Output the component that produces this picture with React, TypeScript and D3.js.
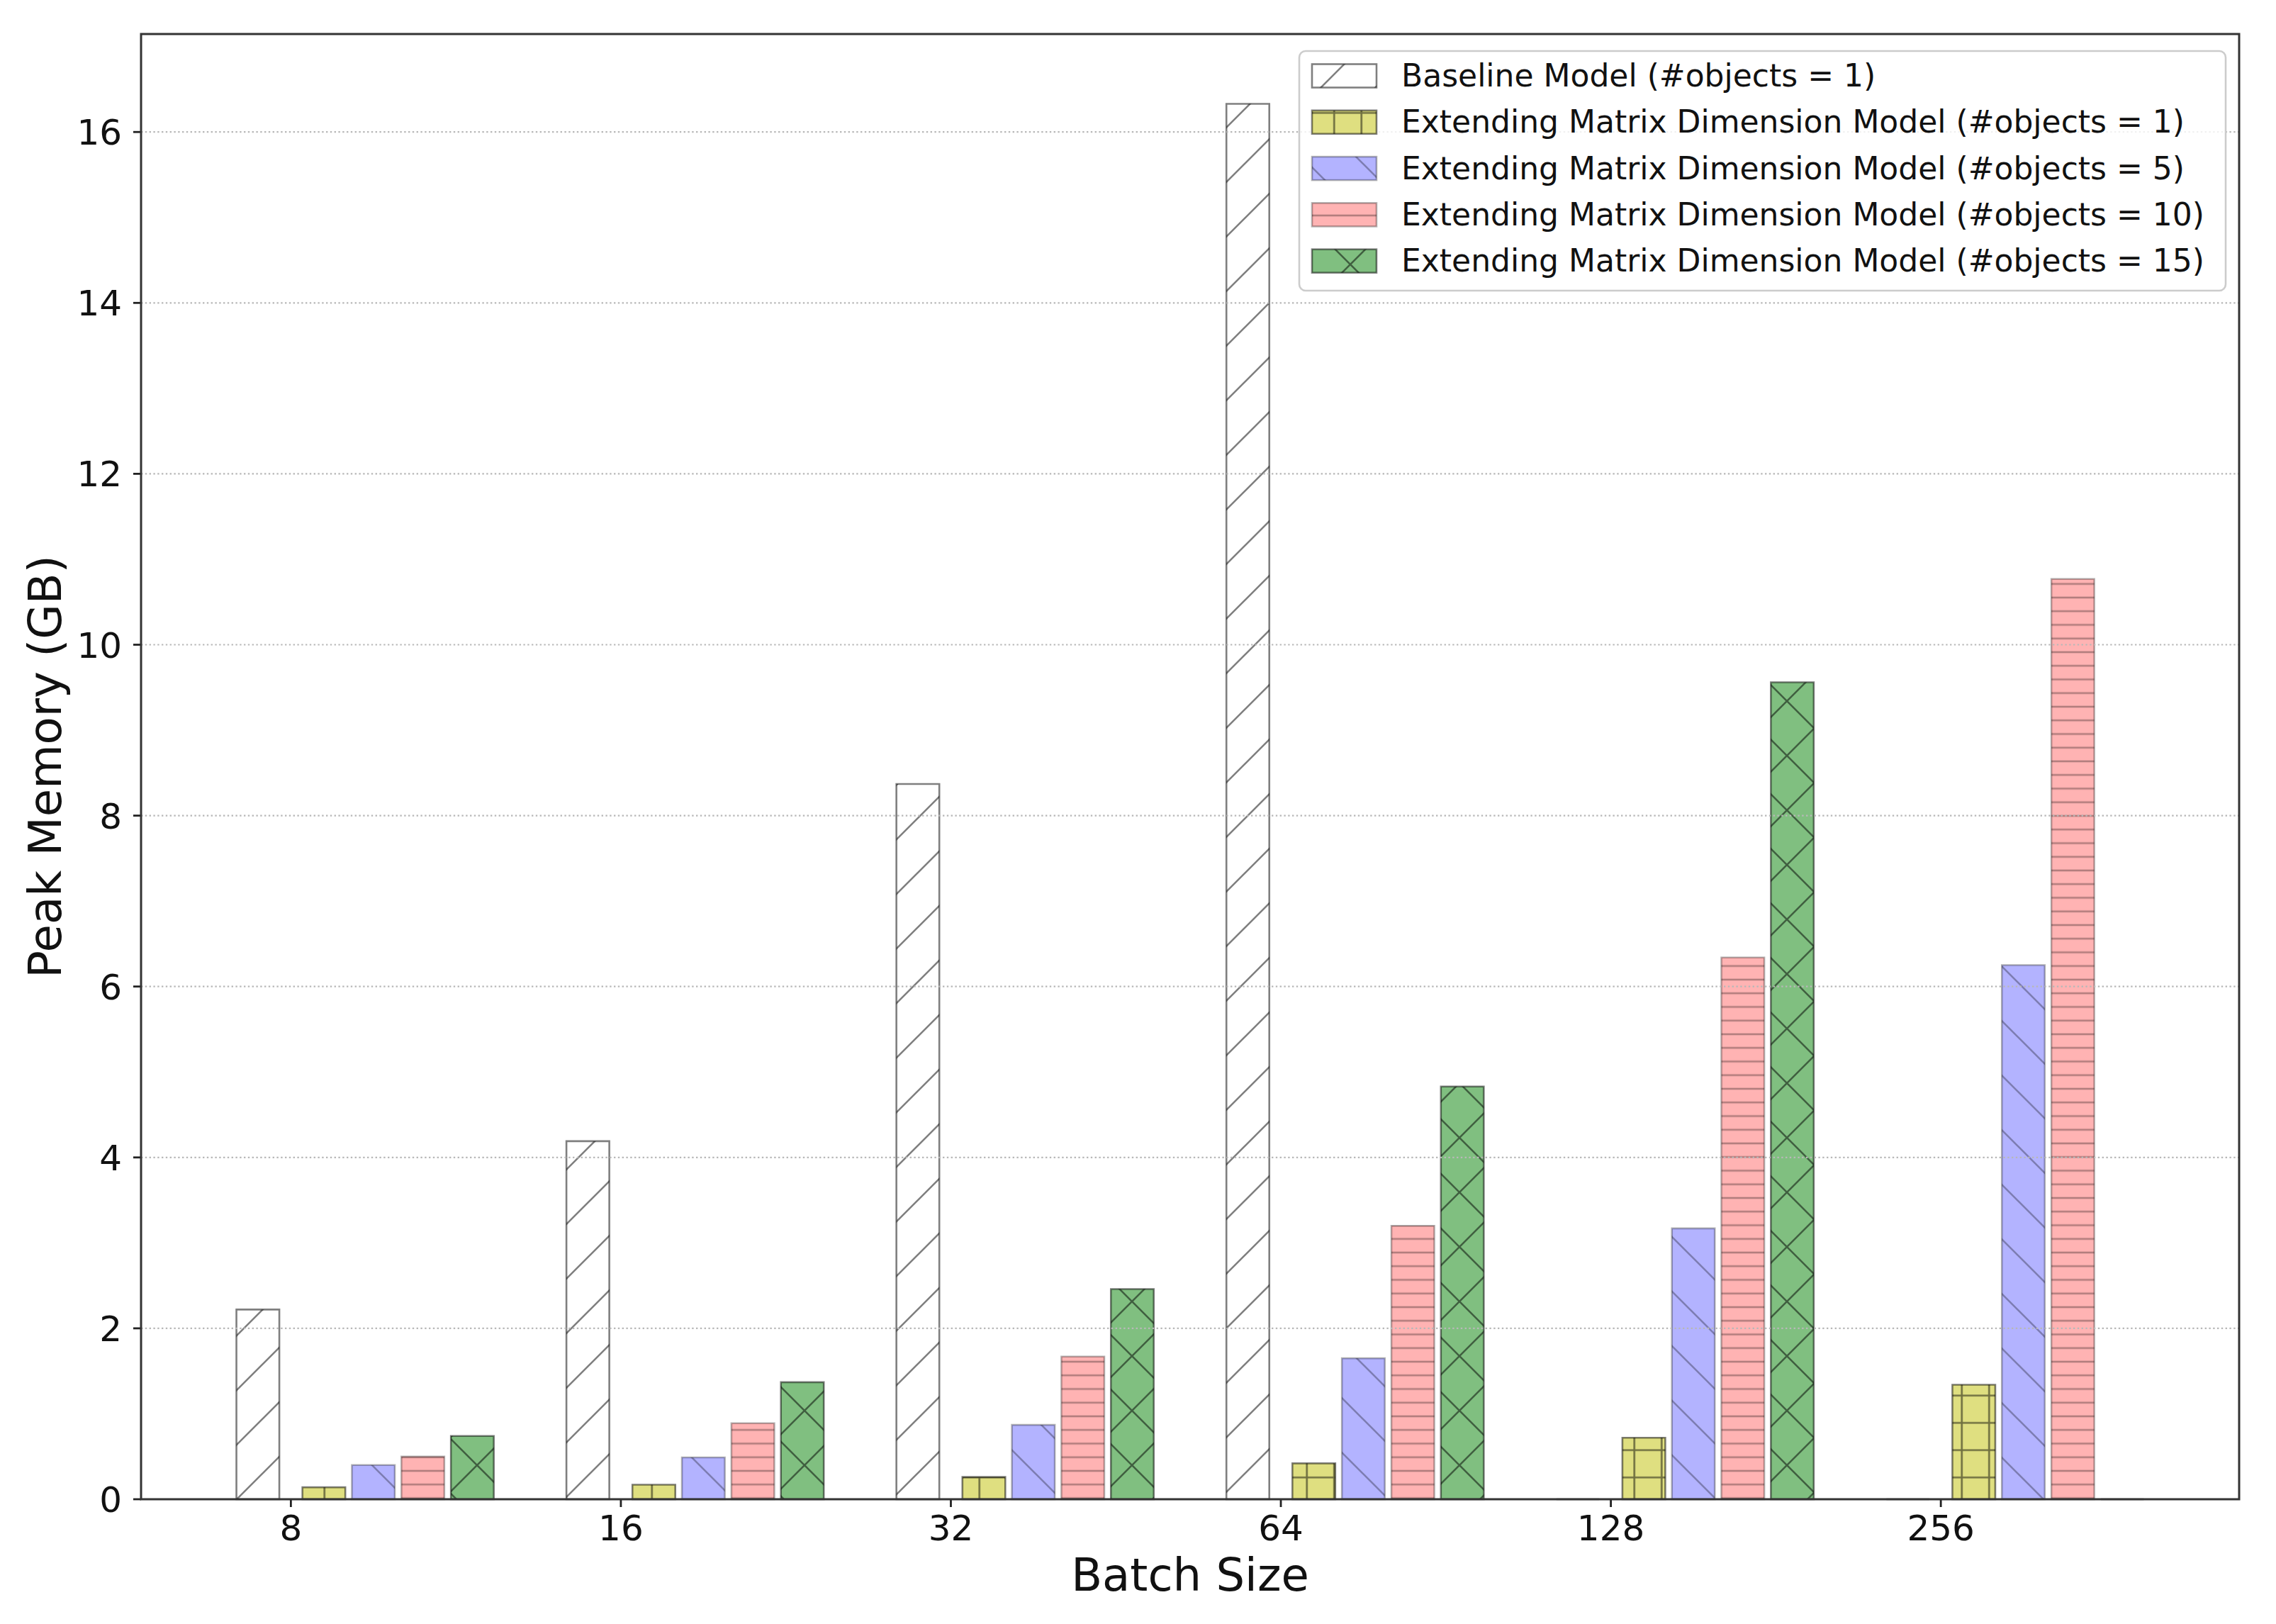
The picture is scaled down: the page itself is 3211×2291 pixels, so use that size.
import React from "react";
import * as d3 from "d3";

const categories = ["8", "16", "32", "64", "128", "256"];

const baselineValues = [2.22, 4.19, 8.37, 16.33, 0, 0];
const emd1Values = [0.14, 0.17, 0.26, 0.42, 0.72, 1.34];
const emd5Values = [0.4, 0.49, 0.87, 1.65, 3.17, 6.25];
const emd10Values = [0.5, 0.89, 1.67, 3.2, 6.34, 10.77];
const emd15Values = [0.74, 1.37, 2.46, 4.83, 9.56, 0];

const seriesLabels = [
  "Baseline Model (#objects = 1)",
  "Extending Matrix Dimension Model (#objects = 1)",
  "Extending Matrix Dimension Model (#objects = 5)",
  "Extending Matrix Dimension Model (#objects = 10)",
  "Extending Matrix Dimension Model (#objects = 15)",
];

const yTicks = [0, 2, 4, 6, 8, 10, 12, 14, 16];

interface Series {
  label: string;
  values: number[];
  offset: number;
  fill: string;
  alpha: number;
  hatch: string;
}

const series: Series[] = [
  { label: seriesLabels[0], values: baselineValues, offset: -0.1, fill: "#ffffff", alpha: 0.5, hatch: "slash" },
  { label: seriesLabels[1], values: emd1Values, offset: 0.1, fill: "#dfdf80", alpha: 0.5, hatch: "plus" },
  { label: seriesLabels[2], values: emd5Values, offset: 0.25, fill: "#b3b3ff", alpha: 0.3, hatch: "back" },
  { label: seriesLabels[3], values: emd10Values, offset: 0.4, fill: "#ffb3b3", alpha: 0.3, hatch: "dash" },
  { label: seriesLabels[4], values: emd15Values, offset: 0.55, fill: "#80bf80", alpha: 0.5, hatch: "cross" },
];

const W = 3211;
const H = 2291;
const margin = { left: 199, right: 52, top: 48, bottom: 176 };
const barWidth = 0.13;
const FONT = "DejaVu Sans, sans-serif";

function HatchDefs() {
  const P = 77;
  const lw = 2.6;
  const diagSlash = `M-2,2 L2,-2 M0,${P} L${P},0 M${P - 2},${P + 2} L${P + 2},${P - 2}`;
  const diagBack = `M-2,${P - 2} L2,${P + 2} M0,0 L${P},${P} M${P - 2},-2 L${P + 2},2`;
  const plusP = P / 2;
  const dashP = P / 4;
  return (
    <defs>
      {series.map((s) => {
        const stroke = `rgba(0,0,0,${s.alpha})`;
        if (s.hatch === "slash")
          return (
            <pattern key={s.hatch} id="h-slash" patternUnits="userSpaceOnUse" width={P} height={P} x={62} y={0}>
              <path d={diagSlash} stroke={stroke} strokeWidth={lw} fill="none" />
            </pattern>
          );
        if (s.hatch === "back")
          return (
            <pattern key={s.hatch} id="h-back" patternUnits="userSpaceOnUse" width={P} height={P} x={75} y={0}>
              <path d={diagBack} stroke={stroke} strokeWidth={lw} fill="none" />
            </pattern>
          );
        if (s.hatch === "cross")
          return (
            <pattern key={s.hatch} id="h-cross" patternUnits="userSpaceOnUse" width={P} height={P} x={57} y={-12}>
              <path d={diagSlash + " " + diagBack} stroke={stroke} strokeWidth={lw} fill="none" />
            </pattern>
          );
        if (s.hatch === "plus")
          return (
            <pattern key={s.hatch} id="h-plus" patternUnits="userSpaceOnUse" width={plusP} height={plusP} x={15} y={24.5}>
              <path
                d={`M0,${plusP / 2} H${plusP} M${plusP / 2},0 V${plusP}`}
                stroke={stroke}
                strokeWidth={lw}
                fill="none"
              />
            </pattern>
          );
        return (
          <pattern key={s.hatch} id="h-dash" patternUnits="userSpaceOnUse" width={dashP} height={dashP} x={0} y={5.6}>
            <path d={`M0,${dashP / 2} H${dashP}`} stroke={stroke} strokeWidth={lw} fill="none" />
          </pattern>
        );
      })}
    </defs>
  );
}

export default function App() {
  const minX = d3.min(series, (s) => s.offset)! - barWidth / 2;
  const maxX = categories.length - 1 + d3.max(series, (s) => s.offset)! + barWidth / 2;
  const pad = (maxX - minX) * 0.05;
  const x = d3
    .scaleLinear()
    .domain([minX - pad, maxX + pad])
    .range([margin.left, W - margin.right]);

  const yMax = d3.max(series, (s) => d3.max(s.values)!)! * 1.05;
  const y = d3
    .scaleLinear()
    .domain([0, yMax])
    .range([H - margin.bottom, margin.top]);

  const x0 = margin.left;
  const x1 = W - margin.right;
  const y0 = H - margin.bottom;
  const y1 = margin.top;

  const legendX = 1833;
  const legendY = 72;
  const rowH = 65.3;

  return (
    <svg
      width={W}
      height={H}
      style={{ position: "absolute", left: 0, top: 0, background: "#fff" }}
      fontFamily={FONT}
    >
      <HatchDefs />
      <rect x={0} y={0} width={W} height={H} fill="#fff" />

      {/* bars */}
      {series.map((s) =>
        s.values.map((v, i) => {
          const bx = x(i + s.offset - barWidth / 2);
          const bw = x(i + s.offset + barWidth / 2) - bx;
          const by = y(v);
          const bh = y(0) - by;
          const outline = `M${bx},${y(0)} H${bx + bw} V${by} H${bx} Z`;
          return (
            <g key={s.label + i}>
              <rect x={bx} y={by} width={bw} height={bh} fill={s.fill} />
              <rect x={bx} y={by} width={bw} height={bh} fill={`url(#h-${s.hatch})`} />
              <path d={outline} fill="none" stroke={`rgba(0,0,0,${s.alpha})`} strokeWidth={2.6} />
            </g>
          );
        })
      )}

      {/* grid */}
      {yTicks
        .filter((t) => t > 0)
        .map((t) => (
          <line
            key={"g" + t}
            x1={x0}
            x2={x1}
            y1={y(t)}
            y2={y(t)}
            stroke="#b8b8b8"
            strokeWidth={2.2}
            strokeDasharray="2.4,3.4"
          />
        ))}

      {/* y ticks */}
      {yTicks.map((t) => (
        <g key={"yt" + t}>
          <line x1={x0 - 11} x2={x0} y1={y(t)} y2={y(t)} stroke="#222" strokeWidth={2.8} />
          <text x={x0 - 27} y={y(t) + 18} textAnchor="end" fontSize={50} fill="#111">
            {t}
          </text>
        </g>
      ))}

      {/* x ticks */}
      {categories.map((c, i) => (
        <g key={"xt" + c}>
          <line x1={x(i)} x2={x(i)} y1={y0} y2={y0 + 11} stroke="#222" strokeWidth={2.8} />
          <text x={x(i)} y={y0 + 58} textAnchor="middle" fontSize={50} fill="#111">
            {c}
          </text>
        </g>
      ))}

      {/* frame */}
      <rect x={x0} y={y1} width={x1 - x0} height={y0 - y1} fill="none" stroke="#333" strokeWidth={3} />

      {/* axis labels */}
      <text x={(x0 + x1) / 2} y={2244} textAnchor="middle" fontSize={64} fill="#111">
        Batch Size
      </text>
      <text
        transform={`translate(86, ${(y0 + y1) / 2}) rotate(-90)`}
        textAnchor="middle"
        fontSize={64}
        fill="#111"
      >
        Peak Memory (GB)
      </text>

      {/* legend */}
      <rect
        x={legendX}
        y={legendY}
        width={3140 - legendX}
        height={410 - legendY}
        rx={9}
        fill="rgba(255,255,255,0.8)"
        stroke="#cccccc"
        strokeWidth={2.6}
      />
      {series.map((s, k) => {
        const cy = 107 + k * rowH;
        const hx = 1851;
        const hw = 91;
        const hh = 33;
        return (
          <g key={"lg" + k}>
            <rect x={hx} y={cy - hh / 2} width={hw} height={hh} fill={s.fill} />
            <rect
              x={hx}
              y={cy - hh / 2}
              width={hw}
              height={hh}
              fill={`url(#h-${s.hatch})`}
              stroke={`rgba(0,0,0,${s.alpha})`}
              strokeWidth={2.6}
            />
            <text x={1977} y={cy + 15} fontSize={44} fill="#111">
              {s.label}
            </text>
          </g>
        );
      })}
    </svg>
  );
}
